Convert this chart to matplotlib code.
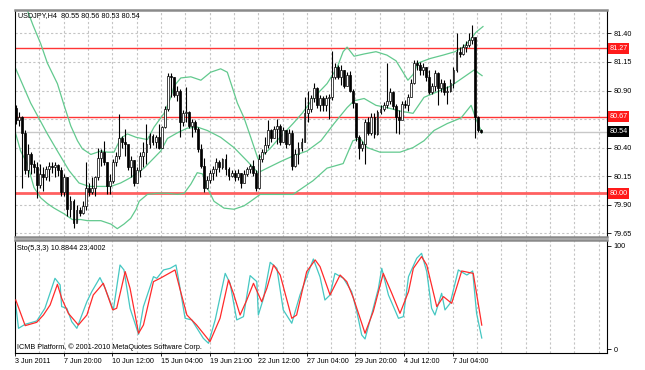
import numpy as np
import matplotlib
matplotlib.use("Agg")
import matplotlib.pyplot as plt

plt.rcParams['font.family'] = ['Liberation Sans', 'DejaVu Sans']

# USDJPY H4 candles (bar 0 = 3 Jun 2011 00:00)
first_open = 80.75
closes = [80.64, 80.67, 80.53, 80.20, 80.34, 80.26, 80.23, 80.07, 80.17, 80.14,
          80.21, 80.24, 80.23, 80.25, 80.20, 80.01, 80.14, 79.86, 79.93, 79.74,
          79.85, 79.83, 79.89, 80.05, 80.01, 80.05, 80.14, 80.31, 80.36, 80.27,
          80.06, 80.11, 80.27, 80.33, 80.48, 80.45, 80.43, 80.23, 80.29, 80.09,
          80.20, 80.33, 80.36, 80.43, 80.50, 80.45, 80.49, 80.40, 80.58, 80.74,
          81.03, 81.02, 80.86, 80.90, 80.62, 80.70, 80.71, 80.59, 80.62, 80.56,
          80.39, 80.24, 80.05, 80.12, 80.18, 80.21, 80.27, 80.23, 80.30, 80.21,
          80.15, 80.18, 80.14, 80.18, 80.09, 80.17, 80.21, 80.24, 80.18, 80.05,
          80.30, 80.36, 80.42, 80.55, 80.48, 80.56, 80.59, 80.45, 80.55, 80.43,
          80.53, 80.24, 80.34, 80.40, 80.45, 80.70, 80.74, 80.83, 80.92, 80.77,
          80.83, 80.77, 80.83, 80.84, 81.02, 81.11, 81.02, 81.08, 80.94, 81.04,
          80.90, 80.79, 80.49, 80.40, 80.43, 80.62, 80.53, 80.67, 80.52, 80.71,
          80.74, 80.77, 80.81, 80.89, 80.76, 80.67, 80.64, 80.78, 80.77, 80.84,
          80.97, 81.14, 81.12, 81.08, 81.11, 81.02, 80.89, 80.94, 81.05, 80.92,
          80.97, 80.89, 80.90, 80.97, 81.08, 81.24, 81.22, 81.28, 81.30, 81.34,
          81.37, 80.67, 80.55, 80.54]
highs = [80.77, 80.71, 80.68, 80.55, 80.43, 80.36, 80.29, 80.27, 80.26, 80.23,
         80.24, 80.27, 80.27, 80.27, 80.26, 80.23, 80.17, 80.14, 79.98, 79.95,
         79.90, 79.88, 79.93, 80.27, 80.09, 80.14, 80.15, 80.40, 80.39, 80.46,
         80.27, 80.17, 80.30, 80.36, 80.69, 80.50, 80.56, 80.36, 80.33, 80.29,
         80.23, 80.36, 80.45, 80.61, 80.53, 80.52, 80.51, 80.61, 80.59, 80.76,
         81.05, 81.05, 81.02, 80.94, 80.91, 80.73, 80.93, 80.72, 80.65, 80.64,
         80.58, 80.43, 80.31, 80.15, 80.20, 80.24, 80.31, 80.29, 80.31, 80.34,
         80.23, 80.20, 80.20, 80.21, 80.18, 80.20, 80.23, 80.26, 80.29, 80.20,
         80.34, 80.39, 80.49, 80.64, 80.56, 80.59, 80.65, 80.61, 80.58, 80.50,
         80.56, 80.55, 80.39, 80.45, 80.48, 80.84, 80.90, 80.86, 80.97, 80.93,
         80.86, 80.85, 80.86, 80.87, 81.25, 81.14, 81.12, 81.12, 81.08, 81.06,
         81.07, 80.91, 80.78, 80.51, 80.46, 80.65, 80.67, 80.70, 80.70, 80.73,
         80.77, 80.80, 81.14, 80.92, 80.90, 80.78, 80.73, 80.81, 80.82, 80.87,
         81.00, 81.17, 81.17, 81.15, 81.14, 81.11, 81.08, 80.97, 81.08, 81.06,
         81.00, 80.99, 80.94, 81.00, 81.11, 81.40, 81.28, 81.31, 81.33, 81.40,
         81.47, 81.36, 80.68, 80.56]
lows = [80.61, 80.59, 80.05, 80.17, 80.14, 80.17, 80.18, 79.96, 80.05, 80.02,
        80.12, 80.11, 80.18, 80.14, 80.15, 79.98, 79.98, 79.80, 79.79, 79.70,
        79.75, 79.80, 79.82, 79.85, 79.98, 79.99, 79.98, 80.12, 80.24, 80.25,
        79.99, 79.99, 80.09, 80.24, 80.30, 80.40, 80.33, 80.20, 80.14, 80.06,
        80.15, 80.14, 80.23, 80.26, 80.40, 80.42, 80.40, 80.39, 80.40, 80.57,
        80.72, 80.84, 80.84, 80.81, 80.49, 80.59, 80.62, 80.57, 80.49, 80.54,
        80.36, 80.22, 80.01, 80.04, 80.09, 80.12, 80.15, 80.19, 80.21, 80.16,
        80.12, 80.14, 80.11, 80.12, 80.05, 80.09, 80.15, 80.18, 80.15, 80.02,
        80.04, 80.27, 80.34, 80.40, 80.45, 80.48, 80.43, 80.42, 80.45, 80.40,
        80.42, 80.20, 80.23, 80.26, 80.37, 80.45, 80.62, 80.71, 80.80, 80.75,
        80.72, 80.72, 80.72, 80.65, 80.82, 81.00, 81.00, 80.95, 80.92, 80.94,
        80.89, 80.75, 80.46, 80.30, 80.37, 80.26, 80.51, 80.51, 80.48, 80.51,
        80.69, 80.72, 80.75, 80.78, 80.74, 80.53, 80.52, 80.72, 80.75, 80.72,
        80.84, 80.96, 81.08, 81.04, 81.04, 80.98, 80.87, 80.87, 80.90, 80.77,
        80.89, 80.86, 80.78, 80.89, 80.92, 81.06, 81.19, 81.21, 81.24, 81.28,
        81.31, 80.48, 80.54, 80.53]

# Bollinger bands (bar index, price)
upper_idx = [3.7, 5.7, 8.2, 10.4, 13.7, 15.9, 18.1, 20.3, 21.9, 24.7, 28.0, 30.1, 32.3,
             34.5, 36.7, 39.6, 43.3, 45.5, 48.8, 51.0, 52.1, 54.3, 57.6, 60.9, 64.1,
             67.4, 69.6, 71.2, 72.9, 75.1, 77.3, 79.7, 83.6, 85.9, 91.2, 94.2, 98.1,
             102.4, 105.7, 107.7, 109.0, 111.3, 114.6, 118.5, 122.1, 125.1, 127.4,
             129.0, 130.7, 132.3, 136.3, 140.6, 144.5, 147.1, 149.4, 151.4, 153.7]
upper_val = [81.61, 81.47, 81.31, 81.14, 80.96, 80.77, 80.59, 80.46, 80.39, 80.34, 80.37,
             80.36, 80.36, 80.48, 80.52, 80.49, 80.47, 80.58, 80.70, 80.84, 80.94, 81.01,
             81.02, 80.99, 81.06, 81.09, 81.06, 80.93, 80.79, 80.66, 80.49, 80.30, 80.39,
             80.46, 80.61, 80.70, 80.84, 80.96, 81.10, 81.24, 81.28, 81.20, 81.22, 81.24,
             81.21, 81.16, 81.06, 80.99, 81.04, 81.14, 81.18, 81.21, 81.24, 81.28, 81.34,
             81.41, 81.46]
mid_idx = [0, 4.9, 10.4, 13.7, 17.5, 20.8, 24.1, 28.0, 31.3, 34.5, 37.3, 39.6, 42.2,
           45.5, 47.7, 49.9, 53.2, 56.4, 59.7, 63.0, 67.4, 71.8, 76.2, 79.7, 82.7,
           87.3, 91.5, 95.8, 100.4, 104.7, 109.0, 111.3, 114.6, 118.5, 122.1, 126.4,
           130.7, 134.3, 143.2, 150.8, 153.4]
mid_val = [81.09, 80.79, 80.52, 80.37, 80.20, 80.09, 80.06, 80.06, 80.06, 80.09, 80.13,
           80.17, 80.22, 80.31, 80.37, 80.48, 80.53, 80.57, 80.58, 80.55, 80.49, 80.40,
           80.28, 80.18, 80.22, 80.28, 80.33, 80.37, 80.46, 80.61, 80.75, 80.81, 80.83,
           80.77, 80.75, 80.72, 80.70, 80.84, 80.94, 81.08, 81.03]
low_idx = [0, 1.6, 3.8, 6.0, 8.2, 10.4, 12.6, 15.9, 18.6, 21.4, 23.6, 28.0, 31.3, 33.4,
           35.6, 37.8, 39.6, 40.6, 43.3, 46.6, 49.9, 53.2, 55.4, 57.6, 59.7, 61.4,
           63.0, 65.2, 68.5, 71.8, 75.1, 77.3, 80.4, 86.9, 91.2, 97.8, 102.4, 107.7,
           110.9, 113.3, 115.6, 119.8, 126.4, 130.7, 134.3, 137.6, 141.9, 146.5,
           149.8, 151.4, 153.4]
low_val = [80.52, 80.37, 80.26, 80.05, 79.96, 79.91, 79.87, 79.82, 79.77, 79.77, 79.76,
           79.76, 79.73, 79.69, 79.73, 79.78, 79.86, 79.93, 79.99, 80.00, 80.00, 79.99,
           80.00, 80.08, 80.18, 80.17, 80.05, 79.93, 79.87, 79.86, 79.89, 79.93, 79.99,
           79.99, 79.99, 80.11, 80.22, 80.26, 80.46, 80.48, 80.40, 80.36, 80.36, 80.40,
           80.46, 80.55, 80.61, 80.66, 80.77, 80.65, 80.53]

# Stochastic (5,3,3)
k_idx = [0, 0.9, 3.1, 6.9, 9.6, 12.9, 14.6, 15.1, 16.8, 18.4, 20.1, 23.4, 25.0, 27.7,
         29.4, 32.1, 34.3, 35.6, 37.6, 40.4, 42.0, 45.3, 46.4, 48.6, 50.8, 52.7, 53.5,
         55.7, 57.9, 61.7, 63.4, 65.6, 68.9, 70.5, 72.7, 74.9, 77.1, 79.3, 79.8, 81.5,
         83.7, 85.9, 88.0, 90.8, 93.5, 97.9, 100.1, 101.7, 103.4, 105.0, 107.8, 110.5,
         112.2, 113.8, 114.9, 117.6, 119.3, 120.4, 122.6, 125.9, 127.5, 129.2, 131.9,
         133.5, 135.2, 136.8, 137.9, 140.1, 141.2, 142.9, 145.6, 148.4, 150.3, 151.6,
         153.3]
k_val = [42.9, 20.3, 24.2, 27.4, 39.7, 68.7, 62.3, 41.3, 39.7, 26.8, 20.3, 46.1, 55.8,
         69.4, 59.0, 38.1, 81.6, 76.8, 39.7, 14.5, 41.3, 70.3, 68.7, 76.8, 78.4, 81.6,
         68.7, 30.0, 28.4, 10.6, 5.8, 28.4, 73.5, 63.9, 28.4, 31.6, 71.3, 65.5, 33.2,
         49.4, 84.2, 78.4, 38.1, 25.2, 52.6, 87.4, 70.0, 47.7, 52.6, 73.5, 68.7, 55.8,
         36.5, 13.9, 10.0, 39.7, 59.0, 78.4, 52.6, 30.0, 31.6, 70.3, 88.1, 92.9, 75.2,
         39.7, 33.2, 54.2, 38.1, 44.5, 76.8, 71.9, 75.8, 34.8, 10.9]
d_idx = [0, 3.1, 6.9, 9.1, 11.3, 13.7, 15.1, 17.3, 20.6, 23.4, 25.5, 28.8, 31.9, 33.2,
         36.0, 37.6, 40.4, 42.0, 45.3, 47.5, 52.4, 54.1, 56.3, 59.5, 63.9, 67.2, 70.0,
         71.6, 73.8, 76.0, 78.2, 80.9, 82.6, 84.8, 87.0, 90.8, 92.4, 95.7, 98.5, 100.1,
         103.4, 106.7, 108.9, 111.1, 114.9, 117.6, 120.9, 123.7, 126.4, 129.2, 130.8,
         133.5, 135.2, 138.5, 140.7, 143.4, 146.7, 150.5, 153.3]
d_val = [47.7, 22.9, 26.1, 33.2, 42.9, 62.9, 49.4, 34.8, 23.5, 33.2, 52.6, 63.9, 38.1,
         39.7, 75.2, 59.0, 15.5, 23.5, 65.5, 68.7, 76.8, 57.4, 33.2, 23.5, 7.4, 30.0,
         67.1, 54.2, 33.2, 47.7, 63.9, 46.1, 59.0, 81.6, 71.9, 30.0, 33.2, 75.2, 86.5,
         80.0, 52.6, 71.9, 65.5, 49.4, 15.5, 36.5, 73.5, 54.2, 34.8, 55.8, 78.4, 89.7,
         81.6, 41.3, 51.0, 44.5, 75.8, 73.5, 23.4]

price_ticks = [79.65, 79.90, 80.15, 80.40, 80.65, 80.90, 81.15, 81.40]
levels = [81.27, 80.67, 80.00]
bid = 80.54
time_labels = ['3 Jun 2011', '7 Jun 20:00', '10 Jun 12:00', '15 Jun 04:00', '19 Jun 21:00',
               '22 Jun 12:00', '27 Jun 04:00', '29 Jun 20:00', '4 Jul 12:00', '7 Jul 04:00']

FS = 5.2
W, H = 645, 370
fig = plt.figure(figsize=(W / 100, H / 100), dpi=100)
fig.patch.set_facecolor('white')
ax = fig.add_axes([15 / W, 1 - 237 / H, 592 / W, 227 / H])
ax2 = fig.add_axes([15 / W, 1 - 353 / H, 592 / W, 113 / H])

xlim = (-0.25, 194.5)
grid_x = np.arange(0, 200, 8) - 0.25
grid_kw = dict(color='#c4c4c4', lw=0.8, ls=(0, (2, 2)), zorder=0)

# ---- price pane
for gx in grid_x[1:]:
    ax.axvline(gx, **grid_kw)
for p in price_ticks:
    ax.axhline(p, **grid_kw)

ax.axhline(bid, color='#c8c8c8', lw=1.0, zorder=1)
ax.axhline(levels[0], color='#ff3535', lw=1.0, zorder=1)
ax.axhline(levels[1], color='#ff3535', lw=1.0, zorder=1)
ax.axhline(levels[2], color='#ff6060', lw=2.0, zorder=1)

band_c = '#62c98e'
ax.plot(upper_idx, upper_val, color=band_c, lw=0.9, zorder=2)
ax.plot(mid_idx, mid_val, color=band_c, lw=0.9, zorder=2)
ax.plot(low_idx, low_val, color=band_c, lw=0.9, zorder=2)

c = np.array(closes)
o = np.r_[first_open, c[:-1]]
idx = np.arange(len(c))
ax.vlines(idx, lows, highs, color='black', lw=0.8, zorder=3)
body_lo = np.minimum(o, c)
body_h = np.maximum(np.abs(c - o), 0.004)
colors = np.where(c >= o, '#ffffff', '#000000')
ax.bar(idx, body_h, bottom=body_lo, width=0.62, color=colors,
       edgecolor='black', linewidth=0.5, zorder=4)

ax.set_xlim(*xlim)
ax.set_ylim(79.617, 81.605)
ax.yaxis.tick_right()
ax.set_yticks(price_ticks)
ax.set_yticklabels(['' if abs(p - 80.65) < 1e-6 else f'{p:.2f}' for p in price_ticks])
ax.tick_params(axis='y', length=3, width=0.6, pad=1.5, labelsize=FS, colors='black')
ax.set_xticks([])
for s in ['left', 'right']:
    ax.spines[s].set_color('black')
    ax.spines[s].set_linewidth(0.8)
ax.spines['top'].set_color('#8a8a8a')
ax.spines['top'].set_linewidth(1.8)
ax.spines['bottom'].set_color('#8a8a8a')
ax.spines['bottom'].set_linewidth(1.8)

ytr = ax.get_yaxis_transform()
box = dict(boxstyle='square,pad=0.25', edgecolor='none')
for lv in levels:
    ax.text(1.004, lv, f'{lv:.2f}', transform=ytr, va='center', ha='left', fontsize=FS,
            color='white', bbox=dict(box, facecolor='#ff1a1a'), clip_on=False)
ax.text(1.004, bid, f'{bid:.2f}', transform=ytr, va='center', ha='left', fontsize=FS,
        color='white', bbox=dict(box, facecolor='black'), clip_on=False)

fig.text(18 / W, 1 - 16 / H, 'USDJPY,H4  80.55 80.56 80.53 80.54', fontsize=FS,
         va='center', ha='left')

# ---- stochastic pane
for gx in grid_x[1:]:
    ax2.axvline(gx, **grid_kw)
ax2.plot(d_idx, d_val, color='#ff2a2a', lw=0.9, zorder=3)
ax2.plot(k_idx, k_val, color='#45c7c2', lw=0.9, zorder=2)
ax2.set_xlim(*xlim)
ax2.set_ylim(-3.6, 105.8)
ax2.yaxis.tick_right()
ax2.set_yticks([0, 100])
ax2.set_yticklabels(['0', '100'])
ax2.tick_params(axis='y', length=3, width=0.6, pad=1.5, labelsize=FS)
ax2.set_xticks(np.arange(len(time_labels)) * 16 - 0.25)
ax2.set_xticklabels(time_labels, ha='left')
ax2.tick_params(axis='x', length=2, width=0.6, pad=1.5, labelsize=FS)
for s in ['left', 'right', 'bottom']:
    ax2.spines[s].set_color('black')
    ax2.spines[s].set_linewidth(0.8)
ax2.spines['top'].set_color('#8a8a8a')
ax2.spines['top'].set_linewidth(1.8)

fig.text(17 / W, 1 - 248 / H, 'Sto(5,3,3) 10.8844 23.4002', fontsize=FS, va='center', ha='left')
fig.text(17 / W, 1 - 347 / H, 'ICMB Platform, \u00a9 2001-2010 MetaQuotes Software Corp.',
         fontsize=FS, va='center', ha='left')

fig.savefig('out.png', dpi=100)
